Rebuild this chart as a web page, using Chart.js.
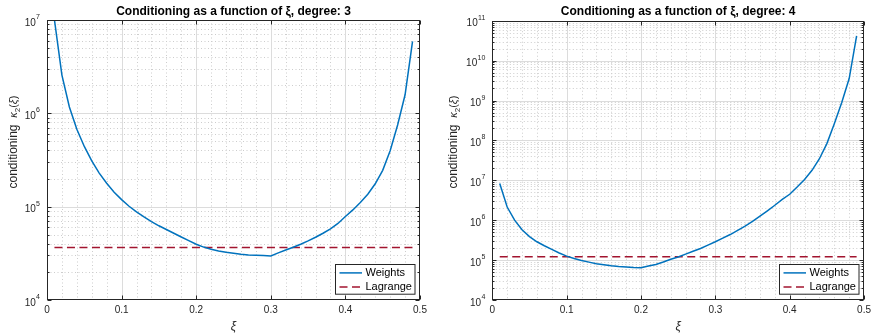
<!DOCTYPE html>
<html><head><meta charset="utf-8">
<script src="https://cdn.jsdelivr.net/npm/chart.js@4/dist/chart.umd.min.js"></script>
<style>
html,body{margin:0;padding:0;background:#fff;}
#wrap{position:relative;width:875px;height:335px;overflow:hidden;background:#fff;}
#wrap canvas{position:absolute;left:0;top:0;}
</style></head><body>
<div id="wrap"><canvas id="c1" width="875" height="335"></canvas><canvas id="c2" width="875" height="335"></canvas></div>
<script>
// ---------- data ----------
const xi = [0.01,0.02,0.03,0.04,0.05,0.06,0.07,0.08,0.09,0.10,
            0.11,0.12,0.13,0.14,0.15,0.16,0.17,0.18,0.19,0.20,
            0.21,0.22,0.23,0.24,0.25,0.26,0.27,0.28,0.29,0.30,
            0.31,0.32,0.33,0.34,0.35,0.36,0.37,0.38,0.39,0.40,
            0.41,0.42,0.43,0.44,0.45,0.46,0.47,0.48,0.49];
const weightsDeg3 = [1.0e7,2.57e6,1.17e6,6.76e5,4.42e5,3.09e5,2.29e5,1.78e5,1.43e5,1.19e5,
                     1.01e5,8.81e4,7.76e4,6.92e4,6.24e4,5.69e4,5.19e4,4.73e4,4.32e4,3.96e4,
                     3.69e4,3.49e4,3.35e4,3.24e4,3.16e4,3.09e4,3.04e4,3.01e4,2.99e4,2.97e4,
                     3.20e4,3.43e4,3.67e4,3.96e4,4.30e4,4.70e4,5.19e4,5.78e4,6.61e4,7.85e4,
                     9.23e4,1.11e5,1.36e5,1.76e5,2.45e5,3.98e5,7.5e5,1.58e6,5.89e6];
const weightsDeg4 = [8.3e6,2.14e6,1.0e6,5.75e5,3.89e5,2.88e5,2.29e5,1.86e5,1.51e5,1.26e5,
                     1.10e5,9.8e4,8.9e4,8.1e4,7.6e4,7.2e4,6.9e4,6.7e4,6.5e4,6.45e4,
                     7.1e4,7.8e4,9.0e4,1.05e5,1.20e5,1.41e5,1.66e5,1.95e5,2.37e5,2.88e5,
                     3.55e5,4.37e5,5.56e5,7.08e5,9.3e5,1.26e6,1.72e6,2.37e6,3.31e6,4.47e6,
                     6.76e6,1.05e7,1.78e7,3.47e7,8.3e7,2.63e8,8.9e8,3.55e9,4.17e10];
const lagrangeX = [0.01, 0.49];
const lagrangeDeg3 = [3.65e4, 3.65e4];
const lagrangeDeg4 = [1.21e5, 1.21e5];
const xTicks = [0, 0.1, 0.2, 0.3, 0.4, 0.5];
const yTicksDeg3 = [1e4, 1e5, 1e6, 1e7];
const yTicksDeg4 = [1e4, 1e5, 1e6, 1e7, 1e8, 1e9, 1e10, 1e11];
const titleDeg3 = 'Conditioning as a function of ξ, degree: 3';
const titleDeg4 = 'Conditioning as a function of ξ, degree: 4';
const seriesNames = ['Weights', 'Lagrange'];
const xLabel = 'ξ';
const yLabelWord = 'conditioning';

// ---------- styling ----------
const FONT = "'Liberation Sans', Arial, Helvetica, sans-serif";
const AX = '#262626';
const BLUE = '#0072BD';
const RED = '#A2142F';
const LDASH = [8, 4.5];

function pts(xs, ys) { return xs.map((x, i) => ({x: x, y: ys[i]})); }

const matlabAxes = {
  id: 'matlabAxes',
  beforeDatasetsDraw(chart, args, o) {
    const {ctx, chartArea: a, scales: {x, y}} = chart;
    ctx.save();
    ctx.beginPath(); ctx.rect(a.left, a.top, a.right - a.left, a.bottom - a.top); ctx.clip();
    // minor grid (dotted)
    ctx.strokeStyle = '#cdcdcd'; ctx.lineWidth = 1; ctx.setLineDash([1, 2.5]);
    ctx.beginPath();
    for (let i = 0; i < xTicks.length - 1; i++) {
      const st = (xTicks[i + 1] - xTicks[i]) / 5;
      for (let k = 1; k < 5; k++) {
        const px = Math.round(x.getPixelForValue(xTicks[i] + k * st)) + 0.5;
        ctx.moveTo(px, a.top); ctx.lineTo(px, a.bottom);
      }
    }
    const yt = o.yTicks;
    for (let i = 0; i < yt.length - 1; i++) {
      for (let k = 2; k <= 9; k++) {
        const py = Math.round(y.getPixelForValue(yt[i] * k)) + 0.5;
        ctx.moveTo(a.left, py); ctx.lineTo(a.right, py);
      }
    }
    ctx.stroke();
    // major grid
    ctx.setLineDash([]); ctx.strokeStyle = '#dcdcdc'; ctx.lineWidth = 1;
    ctx.beginPath();
    xTicks.forEach(v => { const px = Math.round(x.getPixelForValue(v)) + 0.5; ctx.moveTo(px, a.top); ctx.lineTo(px, a.bottom); });
    yt.forEach(v => { const py = Math.round(y.getPixelForValue(v)) + 0.5; ctx.moveTo(a.left, py); ctx.lineTo(a.right, py); });
    ctx.stroke();
    ctx.restore();
  },
  afterDraw(chart, args, o) {
    const {ctx, chartArea: a, scales: {x, y}} = chart;
    ctx.save();
    const L = Math.round(a.left) + 0.5, R = Math.round(a.right) - 0.5, T = Math.round(a.top) + 0.5, B = Math.round(a.bottom) - 0.5;
    // ticks (inside)
    ctx.strokeStyle = AX; ctx.lineWidth = 1; ctx.setLineDash([]);
    ctx.beginPath();
    xTicks.forEach(v => { const px = Math.round(x.getPixelForValue(v)) + 0.5; ctx.moveTo(px, B); ctx.lineTo(px, B - 4); ctx.moveTo(px, T); ctx.lineTo(px, T + 4); });
    const yt = o.yTicks;
    yt.forEach(v => { const py = Math.round(y.getPixelForValue(v)) + 0.5; ctx.moveTo(L, py); ctx.lineTo(L + 4, py); ctx.moveTo(R, py); ctx.lineTo(R - 4, py); });
    for (let i = 0; i < yt.length - 1; i++) {
      for (let k = 2; k <= 9; k++) {
        const py = Math.round(y.getPixelForValue(yt[i] * k)) + 0.5;
        ctx.moveTo(L, py); ctx.lineTo(L + 2, py); ctx.moveTo(R, py); ctx.lineTo(R - 2, py);
      }
    }
    ctx.stroke();
    // box
    ctx.strokeRect(L, T, R - L, B - T);
    // y tick labels 10^n
    ctx.fillStyle = AX; ctx.textAlign = 'right'; ctx.textBaseline = 'alphabetic';
    y.ticks.forEach(t => {
      const py = y.getPixelForValue(t.value);
      const e = String(Math.round(Math.log10(t.value)));
      const right = a.left - 7;
      ctx.font = '7px ' + FONT;
      const ew = ctx.measureText(e).width;
      ctx.fillText(e, right, py - 1);
      ctx.font = '10px ' + FONT;
      ctx.fillText('10', right - ew - 0.3, py + 5.5);
    });
    // y label
    ctx.save();
    ctx.translate(o.yLabelX, 188.5);
    ctx.rotate(-Math.PI / 2);
    ctx.textAlign = 'left'; ctx.textBaseline = 'alphabetic'; ctx.fillStyle = AX;
    const parts = [
      {t: yLabelWord + '  ', f: '12px ' + FONT, dy: 0},
      {t: 'κ', f: 'italic 11px ' + FONT, dy: 0},
      {t: '2', f: '8px ' + FONT, dy: 3},
      {t: '(', f: '11px ' + FONT, dy: 0},
      {t: 'ξ', f: 'italic 11px ' + FONT, dy: 0},
      {t: ')', f: '11px ' + FONT, dy: 0}
    ];
    let cx = 0;
    parts.forEach(p => { ctx.font = p.f; ctx.fillText(p.t, cx, p.dy); cx += ctx.measureText(p.t).width; });
    ctx.restore();
    // legend
    const w = 79.5, h = 29.7;
    const bx = Math.round(a.right - 5.5 - w) + 0.5, by = Math.round(a.bottom - 6 - h) + 0.5;
    ctx.fillStyle = '#fff'; ctx.fillRect(bx, by, w, h);
    ctx.strokeStyle = AX; ctx.lineWidth = 1; ctx.strokeRect(bx, by, w, h);
    const rows = [{c: BLUE, d: [], y: by + 8.4}, {c: RED, d: LDASH, y: by + 22.4}];
    ctx.font = '11px ' + FONT; ctx.textAlign = 'left'; ctx.textBaseline = 'middle';
    rows.forEach((r, i) => {
      ctx.strokeStyle = r.c; ctx.lineWidth = 1.5; ctx.setLineDash(r.d);
      ctx.beginPath(); ctx.moveTo(bx + 4, r.y); ctx.lineTo(bx + 26.5, r.y); ctx.stroke();
      ctx.setLineDash([]);
      ctx.fillStyle = '#000'; ctx.fillText(seriesNames[i], bx + 30, r.y + 0.5);
    });
    ctx.restore();
  }
};

function makeChart(id, weights, lagrange, yTicks, title, pad, yWidth, titlePad, yLabelX) {
  return new Chart(document.getElementById(id), {
    type: 'line',
    data: {
      datasets: [
        {label: seriesNames[0], data: pts(xi, weights), borderColor: BLUE, borderWidth: 1.5, pointRadius: 0, tension: 0, fill: false},
        {label: seriesNames[1], data: pts(lagrangeX, lagrange), borderColor: RED, borderWidth: 1.5, borderDash: LDASH, pointRadius: 0, tension: 0, fill: false}
      ]
    },
    options: {
      responsive: false, animation: false, devicePixelRatio: 1,
      events: [],
      layout: {padding: pad},
      plugins: {
        legend: {display: false},
        tooltip: {enabled: false},
        title: {display: true, text: title, fullSize: false, color: '#000',
                font: {family: FONT, size: 12, weight: 'bold', lineHeight: 1.2}, padding: titlePad},
        matlabAxes: {yTicks: yTicks, yLabelX: yLabelX}
      },
      scales: {
        x: {
          type: 'linear', min: xTicks[0], max: xTicks[xTicks.length - 1],
          afterFit: s => { s.height = 35; },
          afterBuildTicks: s => { s.ticks = xTicks.map(v => ({value: v})); },
          grid: {display: false, drawTicks: false},
          border: {display: false},
          ticks: {padding: 4, color: AX, font: {family: FONT, size: 10}, maxRotation: 0, autoSkip: false,
                  callback: v => String(+Number(v).toFixed(2))},
          title: {display: true, text: xLabel, color: AX, font: {family: FONT, size: 12, style: 'italic', lineHeight: 1.2}, padding: {top: 0, bottom: 0.8}}
        },
        y: {
          type: 'logarithmic', min: yTicks[0], max: yTicks[yTicks.length - 1],
          afterFit: s => { s.width = yWidth; },
          afterBuildTicks: s => { s.ticks = yTicks.map(v => ({value: v, major: true})); },
          grid: {display: false, drawTicks: false},
          border: {display: false},
          ticks: {display: false}
        }
      }
    },
    plugins: [matlabAxes]
  });
}

makeChart('c1', weightsDeg3, lagrangeDeg3, yTicksDeg3, titleDeg3,
          {left: 0, right: 455, top: 0, bottom: 0}, 47, {top: 4.2, bottom: 1.4}, 16.7);
makeChart('c2', weightsDeg4, lagrangeDeg4, yTicksDeg4, titleDeg4,
          {left: 437, right: 10, top: 0, bottom: 0}, 55.3, {top: 4.6, bottom: 1.7}, 456.7);
</script>
</body></html>
